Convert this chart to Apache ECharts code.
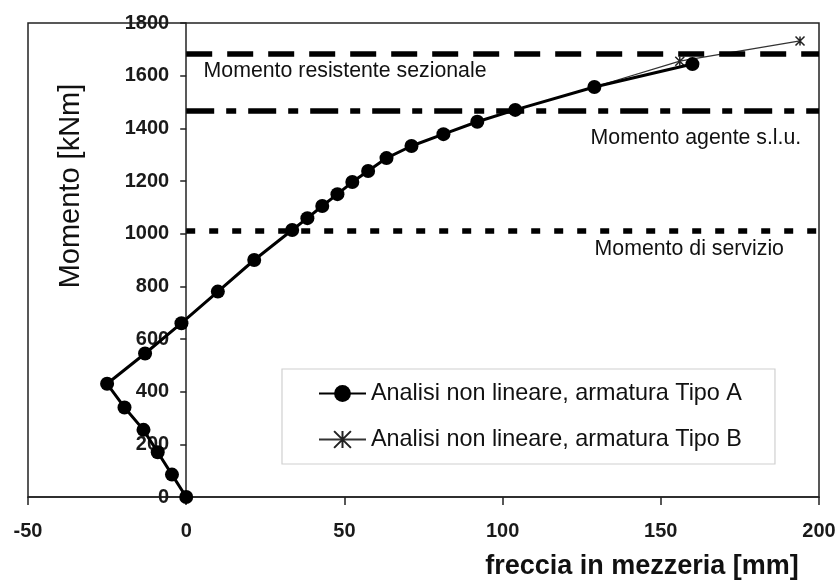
<!DOCTYPE html>
<html>
<head>
<meta charset="utf-8">
<script src="https://cdn.jsdelivr.net/npm/echarts@6/dist/echarts.min.js"></script>
<style>
  html, body { margin: 0; padding: 0; background: #fff; }
  #chart { width: 840px; height: 583px; }
</style>
</head>
<body>
<div id="chart"></div>
<script>
// Mid-span deflection [mm] vs. bending moment [kNm]
const tipoA_x = [0, -4.5, -9, -13.5, -19.5, -25, -13, -1.5, 10, 21.5, 33.5, 38.3, 43, 47.8, 52.5, 57.5, 63.3, 71.2, 81.3, 92, 104, 129, 160];
const tipoA_y = [0, 85, 170, 255, 340, 430, 545, 660, 780, 900, 1014, 1059, 1105, 1150, 1196, 1238, 1287, 1333, 1378, 1425, 1470, 1557, 1644];

const tipoB_x = [0, -4.5, -9, -13.5, -19.5, -25, -13, -1.5, 10, 21.5, 33.5, 38.3, 43, 47.8, 52.5, 57.5, 63.3, 71.2, 81.3, 92, 104, 129, 156, 194];
const tipoB_y = [0, 85, 170, 255, 340, 430, 545, 660, 780, 900, 1014, 1059, 1105, 1150, 1196, 1238, 1287, 1333, 1378, 1425, 1470, 1557, 1655, 1732];

// Reference moments [kNm]
const refNames = ['Momento resistente sezionale', 'Momento agente s.l.u.', 'Momento di servizio'];
const refValues = [1685, 1465, 1010];

const seriesNames = ['Analisi non lineare, armatura Tipo A', 'Analisi non lineare, armatura Tipo B'];

const xTicks = { min: -50, max: 200, interval: 50 };
const yTicks = { min: 0, max: 1800, interval: 200 };

const FONT = '"Liberation Sans", Arial, Helvetica, sans-serif';

const zip = (xs, ys) => xs.map((x, i) => [x, ys[i]]);
const plain = v => String(v);

const chart = echarts.init(document.getElementById('chart'), null, { renderer: 'canvas' });

const refStyles = [
  { type: [26, 15], width: 5.5 },
  { type: [28, 12, 10, 12], width: 5.5 },
  { type: [9, 14], width: 5.5 }
];

const starPath = 'path://M0,0L10,10M10,0L0,10M5,0L5,10';

const tickLabel = { color: '#1a1a1a', fontFamily: FONT, fontSize: 20, fontWeight: 'bold', formatter: plain };

chart.setOption({
  animation: false,
  backgroundColor: '#fff',
  grid: {
    left: 28, top: 23, right: 21, bottom: 86,
    show: true, borderColor: '#222', borderWidth: 1.5,
    containLabel: false, outerBoundsMode: 'none'
  },
  xAxis: {
    type: 'value',
    min: xTicks.min, max: xTicks.max, interval: xTicks.interval,
    splitLine: { show: false },
    axisLine: { show: true, onZero: false, lineStyle: { color: '#222', width: 1.5 } },
    axisTick: { show: true, inside: false, length: 8, lineStyle: { color: '#222', width: 1.5 } },
    axisLabel: Object.assign({ margin: 24 }, tickLabel)
  },
  yAxis: {
    type: 'value',
    min: yTicks.min, max: yTicks.max, interval: yTicks.interval,
    offset: 0,
    splitLine: { show: false },
    axisLine: { show: true, onZero: false, lineStyle: { color: '#222', width: 1.5 } },
    axisTick: { show: true, inside: false, length: 6, lineStyle: { color: '#222', width: 1.5 } },
    axisLabel: Object.assign({ margin: 17 }, tickLabel)
  },
  legend: {
    orient: 'vertical',
    left: 282, top: 369,
    data: seriesNames,
    backgroundColor: '#fff',
    borderColor: '#d0d0d0', borderWidth: 1.2,
    padding: [13, 33, 13, 36],
    itemGap: 23,
    itemWidth: 47, itemHeight: 21,
    textStyle: { color: '#111', fontFamily: FONT, fontSize: 23.4, lineHeight: 22, padding: [0, 0, 0, 0] }
  },
  series: [
    {
      name: 'ref',
      type: 'line',
      data: [],
      z: 1,
      silent: true,
      markLine: {
        silent: true,
        symbol: 'none',
        label: { show: false },
        data: refValues.map((v, i) => [
          { coord: [0, v], lineStyle: { color: '#000', type: refStyles[i].type, width: refStyles[i].width, cap: 'butt' } },
          { coord: [xTicks.max, v] }
        ])
      }
    },
    {
      name: seriesNames[1],
      type: 'line',
      z: 2,
      data: zip(tipoB_x, tipoB_y),
      symbol: starPath,
      symbolSize: 9,
      showAllSymbol: true,
      lineStyle: { color: '#333', width: 1.2 },
      itemStyle: { color: '#222', borderColor: '#222', borderWidth: 1.5 }
    },
    {
      name: seriesNames[0],
      type: 'line',
      z: 3,
      data: zip(tipoA_x, tipoA_y),
      symbol: 'circle',
      symbolSize: 14,
      showAllSymbol: true,
      lineStyle: { color: '#000', width: 3 },
      itemStyle: { color: '#000' }
    }
  ]
});

// The moment axis crosses the deflection axis at zero: shift it there
const px = (x, y) => chart.convertToPixel({ gridIndex: 0 }, [x, y]);
const gridLeft = px(xTicks.min, 0)[0];
const zeroX = px(0, 0)[0];
chart.setOption({ yAxis: { offset: -(zeroX - gridLeft) } });

// Annotation texts next to the reference lines, placed from the axis scales
const pRes = px(5.5, refValues[0]);
const pAg = px(194.4, refValues[1]);
const pSer = px(159, refValues[2]);

const textStyle = { fill: '#111', font: '21.3px ' + FONT };

chart.setOption({
  graphic: [
    { type: 'text', x: pRes[0], y: pRes[1] + 18, style: Object.assign({ text: refNames[0], align: 'left', verticalAlign: 'middle' }, textStyle) },
    { type: 'text', x: pAg[0], y: pAg[1] + 27, style: Object.assign({ text: refNames[1], align: 'right', verticalAlign: 'middle' }, textStyle) },
    { type: 'text', x: pSer[0], y: pSer[1] + 18, style: Object.assign({ text: refNames[2], align: 'center', verticalAlign: 'middle' }, textStyle) },
    { type: 'text', x: 71, y: 186, rotation: Math.PI / 2,
      style: { text: 'Momento [kNm]', align: 'center', verticalAlign: 'middle', fill: '#111', font: '29px ' + FONT } },
    { type: 'text', x: 642, y: 567,
      style: { text: 'freccia in mezzeria [mm]', align: 'center', verticalAlign: 'middle', fill: '#111', font: 'bold 27px ' + FONT } }
  ]
});
</script>
</body>
</html>
